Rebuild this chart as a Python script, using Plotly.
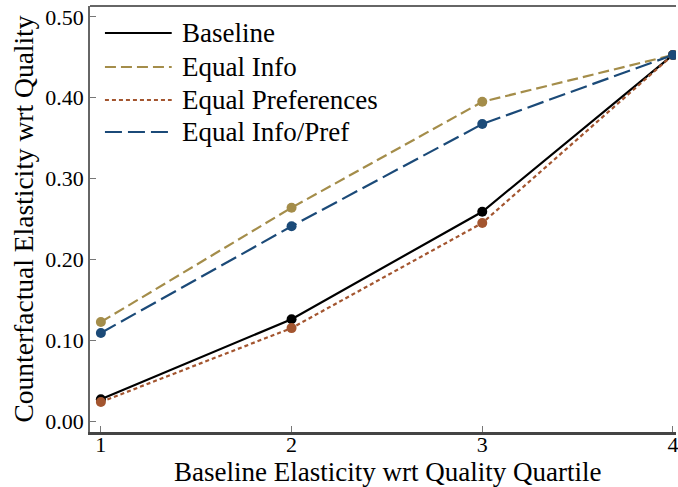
import plotly.graph_objects as go

quartiles = [1, 2, 3, 4]
baseline = [0.027, 0.126, 0.259, 0.453]
equal_info = [0.1225, 0.264, 0.395, 0.453]
equal_pref = [0.0235, 0.115, 0.245, 0.453]
equal_info_pref = [0.109, 0.241, 0.3675, 0.453]

series = [
    ("Baseline", baseline, "#000000", "solid"),
    ("Equal Info", equal_info, "#a48d4a", "11px,5px"),
    ("Equal Preferences", equal_pref, "#a3552f", "4px,3px"),
    ("Equal Info/Pref", equal_info_pref, "#1b4a78", "17px,6px"),
]

W, H = 678, 487
ML, MR, MT, MB = 90, 0, 6, 55
PW, PH = W - ML - MR, H - MT - MB

def px(xp):
    return (xp - ML) / PW

def py(yp):
    return (H - MB - yp) / PH

fig = go.Figure()
for name, vals, col, dash in series:
    fig.add_trace(go.Scatter(
        x=quartiles, y=vals, name=name, mode="lines", showlegend=False,
        line=dict(color=col, width=2.2, dash=dash),
    ))
for name, vals, col, dash in series:
    fig.add_trace(go.Scatter(
        x=quartiles, y=vals, name=name, mode="markers", showlegend=False,
        marker=dict(color=col, size=10),
    ))

font = "Liberation Serif, DejaVu Serif, serif"

# legend drawn manually (long sample lines like the reference)
legend_rows = [33, 67, 100, 132]
for (name, vals, col, dash), ry in zip(series, legend_rows):
    fig.add_shape(type="line", xref="paper", yref="paper",
                  x0=px(105), x1=px(172), y0=py(ry), y1=py(ry),
                  line=dict(color=col, width=2.2, dash=dash))
    fig.add_annotation(xref="paper", yref="paper", x=px(180), y=py(ry),
                       text=name, showarrow=False, xanchor="left", yanchor="middle",
                       font=dict(size=27, family=font, color="black"))

# x-axis title placed explicitly to sit just below tick labels
fig.add_annotation(xref="paper", yref="paper", x=px(389), y=py(472),
                   text="Baseline Elasticity wrt Quality Quartile", showarrow=False,
                   xanchor="center", yanchor="middle",
                   font=dict(size=27, family=font, color="black"))

fig.update_layout(
    width=W, height=H,
    margin=dict(l=ML, r=MR, t=MT, b=MB),
    paper_bgcolor="white", plot_bgcolor="white",
    font=dict(family=font, color="black"),
    showlegend=False,
    xaxis=dict(range=[0.943, 4.016], tickvals=quartiles, ticktext=["1", "2", "3", "4"],
               showgrid=False, zeroline=False, showline=True, linecolor="#444444", linewidth=2.5,
               mirror=False, ticks="inside", tickcolor="#777777", ticklen=6,
               tickfont=dict(size=22, family=font), ticklabelstandoff=-9,
               ticklabeloverflow="allow"),
    yaxis=dict(range=[-0.0136, 0.5136], tickvals=[0, 0.1, 0.2, 0.3, 0.4, 0.5],
               ticktext=["0.00", "0.10", "0.20", "0.30", "0.40", "0.50"],
               showgrid=False, zeroline=False, showline=True, linecolor="#666666", linewidth=1.5,
               ticks="inside", tickcolor="#777777", ticklen=6,
               tickfont=dict(size=22, family=font),
               title=dict(text="Counterfactual Elasticity wrt Quality", font=dict(size=27.5, family=font), standoff=4)),
)
fig.add_shape(type="line", xref="paper", yref="paper", x0=0, x1=1, y0=1, y1=1,
              line=dict(color="#333333", width=1.5))

fig.write_html("out.html")
